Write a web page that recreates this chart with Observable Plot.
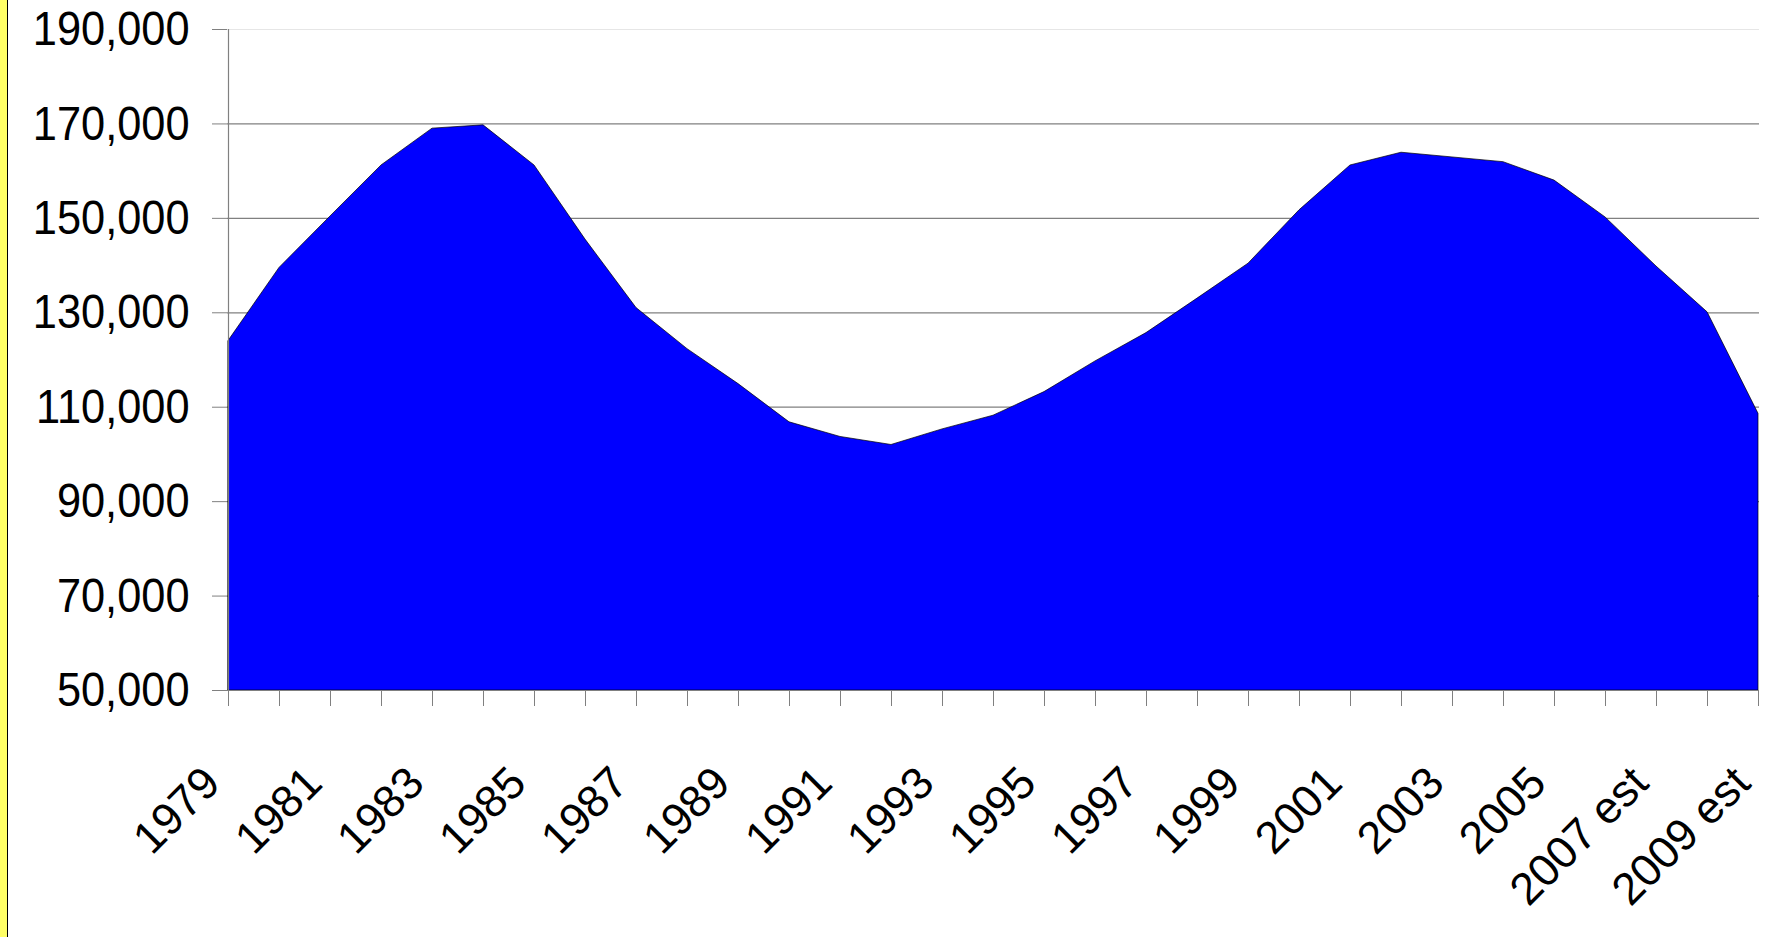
<!DOCTYPE html>
<html>
<head>
<meta charset="utf-8">
<script src="https://cdn.jsdelivr.net/npm/d3@7"></script>
<script src="https://cdn.jsdelivr.net/npm/@observablehq/plot@0.6"></script>
<style>
  html, body { margin: 0; padding: 0; background: white; }
  body { width: 1769px; height: 937px; position: relative; overflow: hidden; }
  #strip { position: absolute; left: 0; top: 0; width: 7px; height: 937px; background: #ffff66; border-right: 1.5px solid #000; z-index: 2; }
  #chart { position: absolute; left: 0; top: 0; }
</style>
</head>
<body>
<div id="strip"></div>
<div id="chart"></div>
<script>
const categories = ["1979","1980","1981","1982","1983","1984","1985","1986","1987","1988",
  "1989","1990","1991","1992","1993","1994","1995","1996","1997","1998",
  "1999","2000","2001","2002","2003","2004","2005","2006","2007 est","2008 est","2009 est"];
const values = [124000, 139500, 150400, 161200, 169000, 169700, 161200, 145500, 131000, 122300,
  114900, 106800, 103700, 102000, 105300, 108200, 113200, 119700, 125700, 133000,
  140400, 151700, 161200, 163900, 162900, 161900, 158000, 150200, 139800, 130100, 108600];
const yTicks = [50000, 70000, 90000, 110000, 130000, 150000, 170000, 190000];
const gridValues = [70000, 90000, 110000, 130000, 150000, 170000];
const topGrid = [190000];
const xLabels = categories.filter((d, i) => i % 2 === 0);

const data = categories.map((c, i) => ({cat: c, value: values[i]}));
const font = "'Liberation Sans', Arial, sans-serif";

const svg = Plot.plot({
  width: 1769,
  height: 937,
  marginLeft: 227,
  marginRight: 10,
  marginTop: 29,
  marginBottom: 247,
  style: {fontFamily: font, background: "white", overflow: "visible"},
  x: {type: "point", domain: categories, padding: 0},
  y: {domain: [50000, 190000]},
  marks: [
    Plot.ruleY(gridValues, {stroke: "#808080", strokeWidth: 1.2}),
    Plot.ruleY(topGrid, {stroke: "#e6e6e6", strokeWidth: 1.2}),
    Plot.areaY(data, {x: "cat", y1: 50000, y2: "value", fill: "#0000ff", stroke: "#000", strokeWidth: 0.7}),
    Plot.ruleY([50000], {stroke: "#808080", strokeWidth: 1.2}),
    Plot.ruleX([categories[0]], {stroke: "#808080", strokeWidth: 1.2}),
    Plot.axisY({ticks: yTicks, tickSize: 15, tickPadding: 23, tickFormat: d3.format(","),
      stroke: "#808080", fill: "black", fontSize: 49, label: null}),
    Plot.axisX({ticks: categories, tickSize: 16, tickFormat: null, stroke: "#808080", label: null}),
    Plot.text(xLabels, {x: d => d, frameAnchor: "bottom", rotate: -45, textAnchor: "end",
      lineAnchor: "bottom", dx: -6, dy: 95, fontSize: 45, fill: "black"})
  ]
});
document.getElementById("chart").appendChild(svg);

svg.querySelectorAll('g[aria-label="y-axis tick label"] text').forEach(t => {
  const b = t.getBBox();
  const rx = b.x + b.width;
  const tr = t.getAttribute("transform") || "";
  t.setAttribute("transform", `${tr} translate(${rx},0) scale(0.885,1) translate(${-rx},0)`);
});
</script>
</body>
</html>
